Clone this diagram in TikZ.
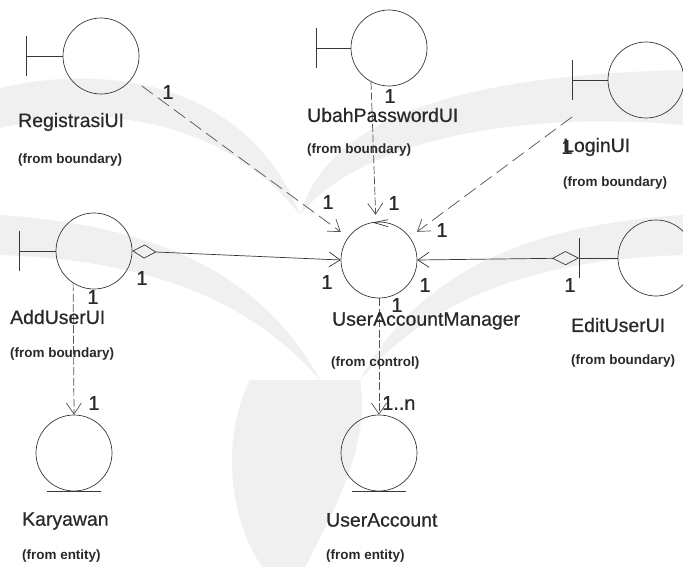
\documentclass[tikz,border=0pt]{standalone}
\usepackage{fontspec}
\setmainfont{Liberation Sans}
\newfontfamily\namefont{Liberation Sans}[FakeBold=0.6]
\usetikzlibrary{arrows.meta,calc}

\definecolor{ink}{gray}{0.22}
\definecolor{dashink}{gray}{0.32}
\definecolor{txt}{gray}{0.16}
\definecolor{mark}{gray}{0.94}

\tikzset{
  obj/.style={circle, draw=ink, line width=0.7bp, minimum size=76bp, inner sep=0pt},
  bar/.style={draw=ink, line width=0.7bp},
  objname/.style={anchor=west, text=txt, inner sep=0pt, font=\namefont\fontsize{19.5}{19.5}\selectfont},
  objpkg/.style={anchor=west, text=txt, inner sep=0pt, font=\fontsize{13.5}{13.5}\selectfont\bfseries},
  mult/.style={text=txt, inner sep=0pt, font=\namefont\fontsize{20}{20}\selectfont},
  vee/.style={-{Straight Barb[length=11bp,width=15bp,line width=0.7bp]}},
  dep/.style={draw=dashink, line width=0.7bp, dash pattern=on 14bp off 6bp, vee},
  depv/.style={draw=dashink, line width=0.7bp, dash pattern=on 8bp off 2.5bp, vee},
  assoc/.style={draw=ink, line width=0.7bp}
}

\begin{document}
\begin{tikzpicture}[x=1bp, y=-1bp]
\useasboundingbox (0,0) rectangle (683,567);
\fill[white] (0,0) rectangle (683,567);

% faint emblem in the background
\begin{scope}[fill=mark]
  \fill (0,88) .. controls (110,62) and (250,85) .. (300,215)
        .. controls (230,125) and (110,100) .. (0,128) -- cycle;
  \fill (300,215) .. controls (330,110) and (480,75) .. (683,70)
        -- (683,125) .. controls (520,110) and (360,140) .. (300,215) -- cycle;
  \fill (0,215) .. controls (150,225) and (260,270) .. (320,380)
        .. controls (250,300) and (150,260) .. (0,255) -- cycle;
  \fill (683,215) .. controls (530,225) and (420,270) .. (360,380)
        .. controls (430,300) and (530,260) .. (683,255) -- cycle;
  \fill (250,380) .. controls (220,440) and (230,520) .. (262,567)
        -- (305,567) .. controls (340,500) and (370,440) .. (360,380) -- cycle;
\end{scope}

% boundary objects: circle with a bar on the left
\node[obj] (reg)   at (101,56)  {};
\node[obj] (ubah)  at (389,48)  {};
\node[obj] (login) at (646,80)  {};
\node[obj] (add)   at (94,251)  {};
\node[obj] (edit)  at (656,258) {};
% control object
\node[obj] (uam)   at (379,260) {};
% entity objects
\node[obj] (kary)  at (74,453)  {};
\node[obj] (uacc)  at (379,453) {};

% boundary bars
\foreach \n/\bx in {reg/26, ubah/316, login/572, add/19, edit/579} {
  \draw[bar] (\bx,0 |- \n.center) ++(0,-20) -- ++(0,40);
  \draw[bar] (\bx,0 |- \n.center) -- (\n.west);
}
% entity ground lines
\draw[bar] (kary.south west |- kary.south) -- (kary.south east |- kary.south);
\draw[bar] (uacc.south west |- uacc.south) -- (uacc.south east |- uacc.south);

% connector end points off the bars
\coordinate (loginfoot) at (572,117);
\coordinate (editbar)   at (579,258);

% dependencies into the manager
\draw[dep, shorten <=12bp, shorten >=9bp] (reg) -- (uam);
\draw[depv] (ubah.242) -- ($(uam.95)+(0,-7)$);
\draw[dep, shorten >=9bp] (loginfoot) -- (uam);
\draw[depv] (uam.south) -- (uacc.north);
\draw[depv] (add.237) -- (kary.north);

% aggregations
\draw[assoc, {Diamond[open,length=24bp,width=14bp,line width=0.7bp]}-{Straight Barb[length=11bp,width=15bp,line width=0.7bp]}] (add.east) -- (uam.west);
\draw[assoc, {Diamond[open,length=27bp,width=14bp,line width=0.7bp]}-{Straight Barb[length=11bp,width=15bp,line width=0.7bp]}] (editbar) -- (uam.east);

% small barb on top of the manager
\draw[bar] ($(uam.north)+(9,-2)$) -- ($(uam.north)+(-5,1)$) -- ($(uam.north)+(9,5)$);

% names
\node[objname] (nreg)   at (18,122)  {RegistrasiUI};
\node[objpkg]  (preg)   at (18,160)  {(from boundary)};
\node[objname] (nubah)  at (307,115) {UbahPasswordUI};
\node[objpkg]  (pubah)  at (307,150) {(from boundary)};
\node[objname] (nlogin) at (563,147) {LoginUI};
\node[objpkg]  (plogin) at (563,183) {(from boundary)};
\node[objname] (nadd)   at (10,317)  {AddUserUI};
\node[objpkg]  (padd)   at (10,354)  {(from boundary)};
\node[objname] (nuam)   at (332,321) {UserAccountManager};
\node[objpkg]  (puam)   at (331,363) {(from control)};
\node[objname] (nedit)  at (571,325) {EditUserUI};
\node[objpkg]  (pedit)  at (571,361) {(from boundary)};
\node[objname] (nkary)  at (22,521)  {Karyawan};
\node[objpkg]  (pkary)  at (22,556)  {(from entity)};
\node[objname] (nuacc)  at (326,520) {UserAccount};
\node[objpkg]  (puacc)  at (326,556) {(from entity)};

% multiplicities
\node[mult] (m1)  at (168,92)  {1};
\node[mult] (m2)  at (390,96)  {1};
\node[mult] (m3)  at (567,147) {1};
\node[mult] (m4)  at (328,202) {1};
\node[mult] (m5)  at (394,203) {1};
\node[mult] (m6)  at (442,230) {1};
\node[mult] (m7)  at (327,282) {1};
\node[mult] (m8)  at (425,285) {1};
\node[mult] (m9)  at (397,305) {1};
\node[mult] (m10) at (142,278) {1};
\node[mult] (m11) at (93,297)  {1};
\node[mult] (m12) at (570,285) {1};
\node[mult] (m13) at (94,403)  {1};
\node[mult, anchor=west] (m14) at (382,403) {1..n};
\end{tikzpicture}
\end{document}
